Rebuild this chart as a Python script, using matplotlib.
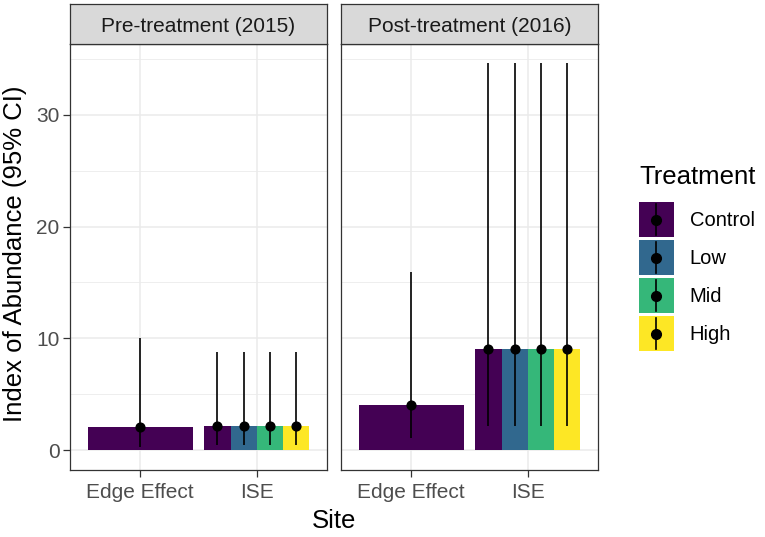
import numpy as np
import matplotlib
matplotlib.use("Agg")
import matplotlib.pyplot as plt
from matplotlib.patches import Patch, Rectangle
from matplotlib.lines import Line2D
from matplotlib.legend_handler import HandlerBase

plt.rcParams['font.family'] = ['Liberation Sans', 'DejaVu Sans']

# data
panels = ["Pre-treatment (2015)", "Post-treatment (2016)"]
sites = ["Edge Effect", "ISE"]
treatments = ["Control", "Low", "Mid", "High"]
colors = ["#440154", "#31688E", "#35B779", "#FDE725"]

edge_est = [2.05, 4.05]
edge_lo = [0.3, 1.05]
edge_hi = [10.0, 15.9]

ise_est_pre = [2.15, 2.15, 2.15, 2.15]
ise_lo_pre = [0.45, 0.45, 0.45, 0.45]
ise_hi_pre = [8.8, 8.8, 8.8, 8.8]

ise_est_post = [9.05, 9.05, 9.05, 9.05]
ise_lo_post = [2.2, 2.2, 2.2, 2.2]
ise_hi_post = [34.6, 34.6, 34.6, 34.6]

ise_est = [ise_est_pre, ise_est_post]
ise_lo = [ise_lo_pre, ise_lo_post]
ise_hi = [ise_hi_pre, ise_hi_post]

W, H = 765, 537
fig = plt.figure(figsize=(W / 100, H / 100), dpi=100)

def fbox(x0, y0, x1, y1):
    # pixel box (top-left origin) -> figure rect
    return [x0 / W, 1 - y1 / H, (x1 - x0) / W, (y1 - y0) / H]


class KeyHandler(HandlerBase):
    # filled key with a point-range on top, like ggplot
    def create_artists(self, legend, orig_handle, xdescent, ydescent,
                       width, height, fontsize, trans):
        x0, y0 = -xdescent, -ydescent
        rect = Rectangle((x0, y0), width, height, facecolor=orig_handle.get_facecolor(),
                         edgecolor="none", transform=trans)
        xc = x0 + width / 2
        yc = y0 + height / 2
        vline = Line2D([xc, xc], [y0 + 0.06 * height, y0 + 0.94 * height],
                       color="black", lw=1.2, transform=trans)
        dot = Line2D([xc], [yc], marker="o", ms=7, color="black", ls="none",
                     transform=trans)
        return [rect, vline, dot]


panel_px = [(70, 327), (341, 598)]
dark = "#333333"
grid = "#EBEBEB"
dodge = 0.9

ymax = max(max(edge_hi), max(max(h) for h in ise_hi))
pad = 0.05 * ymax

for p, (x0, x1) in enumerate(panel_px):
    ax = fig.add_axes(fbox(x0, 44, x1, 469.5))
    ax.set_xlim(0.4, 2.6)
    ax.set_ylim(-pad, ymax + pad)
    ax.set_yticks([0, 10, 20, 30])
    ax.set_yticks([5, 15, 25, 35], minor=True)
    ax.set_xticks([1, 2])
    ax.set_xticklabels(sites)
    ax.grid(True, which="major", color=grid, lw=1.1, zorder=0)
    ax.grid(True, which="minor", axis="y", color=grid, lw=0.6, zorder=0)
    ax.set_axisbelow(True)
    for s in ax.spines.values():
        s.set_color(dark)
        s.set_linewidth(0.9)
    ax.tick_params(axis="both", which="major", length=5, width=0.9, color=dark,
                   labelcolor="#4D4D4D", labelsize=15, pad=2.5)
    ax.tick_params(axis="x", which="major", pad=4.5)
    ax.tick_params(axis="y", which="minor", length=0)
    if p > 0:
        ax.tick_params(axis="y", labelleft=False, length=0)

    # Edge Effect: only Control
    ax.bar(1, edge_est[p], width=dodge, color=colors[0], zorder=2)
    ax.errorbar(1, edge_est[p], yerr=[[edge_est[p] - edge_lo[p]], [edge_hi[p] - edge_est[p]]],
                fmt="o", color="black", ms=6.3, elinewidth=1.2, capsize=0, zorder=3)

    # ISE: four treatments dodged
    n = len(treatments)
    w = dodge / n
    for i, t in enumerate(treatments):
        xi = 2 + (i - (n - 1) / 2) * w
        ax.bar(xi, ise_est[p][i], width=w, color=colors[i], zorder=2)
        ax.errorbar(xi, ise_est[p][i],
                    yerr=[[ise_est[p][i] - ise_lo[p][i]], [ise_hi[p][i] - ise_est[p][i]]],
                    fmt="o", color="black", ms=6.3, elinewidth=1.2, capsize=0, zorder=3)

    # facet strip
    sax = fig.add_axes(fbox(x0, 4, x1, 44))
    sax.set_facecolor("#D9D9D9")
    sax.set_xticks([])
    sax.set_yticks([])
    for s in sax.spines.values():
        s.set_color(dark)
        s.set_linewidth(0.9)
    sax.text(0.5, (44 - 32.3) / 40, panels[p], ha="center", va="baseline", fontsize=15,
             color="#1A1A1A", transform=sax.transAxes)

fig.text(15 / W, 1 - 254 / H, "Index of Abundance (95% CI)", rotation=90,
         ha="center", va="center", fontsize=18.5)
fig.text(334 / W, 1 - 528 / H, "Site", ha="center", va="baseline", fontsize=18.5)

# legend title placed on its own, keys below
fig.text(639 / W, 1 - 184.3 / H, "Treatment", ha="left", va="baseline", fontsize=18.5)
handles = [Patch(facecolor=c) for c in colors]
leg = fig.legend(handles, treatments, loc="upper left",
                 bbox_to_anchor=(630.5 / W, 1 - 194 / H), frameon=False,
                 fontsize=14.5, handlelength=1.74, handleheight=2.3, labelspacing=0.15,
                 handletextpad=0.8, borderaxespad=0,
                 handler_map={Patch: KeyHandler()})

fig.savefig("out.png", dpi=100)
